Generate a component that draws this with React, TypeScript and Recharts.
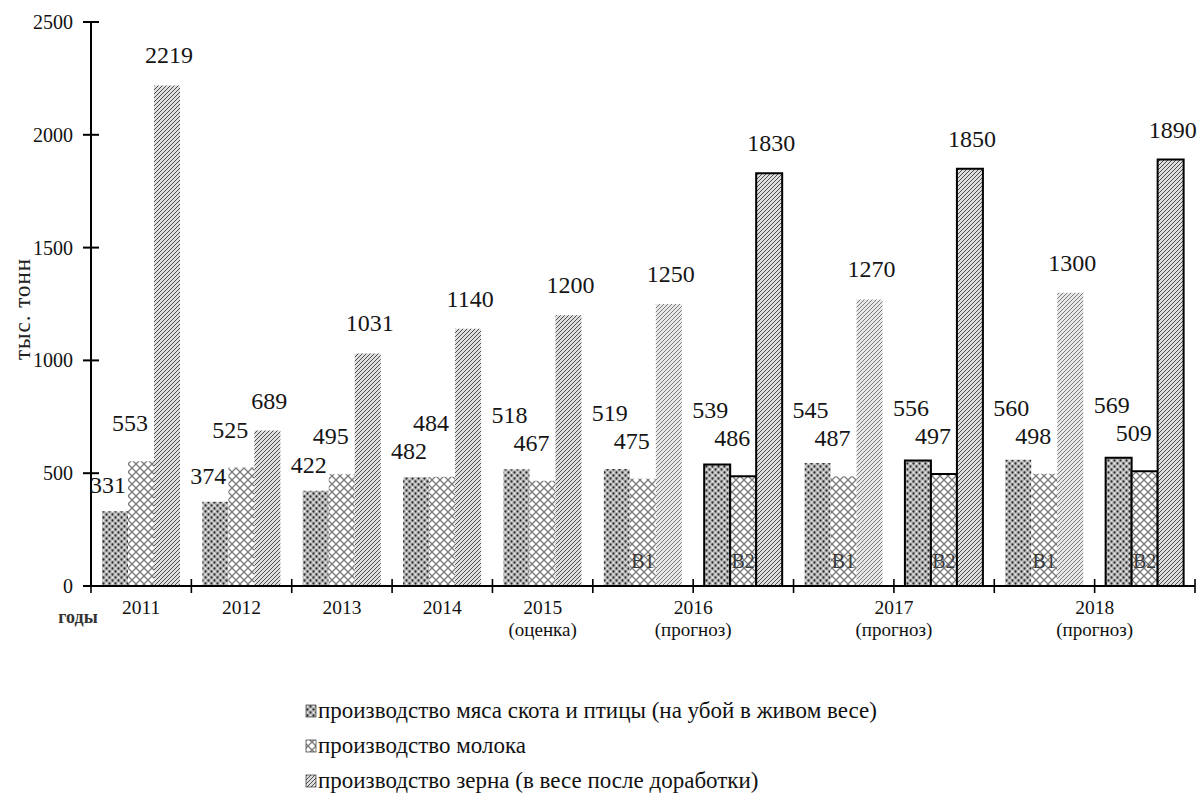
import React from 'react';
import { BarChart, Bar, XAxis, YAxis, Cell, LabelList, Legend, Label } from 'recharts';

const FONT = 'Liberation Serif, Times New Roman, serif';

// ---- data ----
const years = ['2011', '2012', '2013', '2014', '2015', '2016', '2016', '2017', '2017', '2018', '2018'];
const variants = ['', '', '', '', '', 'В1', 'В2', 'В1', 'В2', 'В1', 'В2'];
const notes = ['', '', '', '', '(оценка)', '(прогноз)', '(прогноз)', '(прогноз)', '(прогноз)', '(прогноз)', '(прогноз)'];
const meat = [331, 374, 422, 482, 518, 519, 539, 545, 556, 560, 569];
const milk = [553, 525, 495, 484, 467, 475, 486, 487, 497, 498, 509];
const grain = [2219, 689, 1031, 1140, 1200, 1250, 1830, 1270, 1850, 1300, 1890];
const yTicks = [0, 500, 1000, 1500, 2000, 2500];
const seriesNames = [
  'производство мяса скота и птицы (на убой в живом весе)',
  'производство молока',
  'производство зерна (в весе после доработки)',
];
const yLabel = 'тыс. тонн';
const xLabel = 'годы';

const data = years.map((y, i) => ({
  key: y + variants[i],
  year: y,
  variant: variants[i],
  note: notes[i],
  meat: meat[i],
  milk: milk[i],
  grain: grain[i],
}));

// ---- layout ----
const W = 1197;
const H = 793;
const Y_AXIS_W = 1;
const X_AXIS_H = 1;
const M = { top: 22, right: 2, left: 91 - Y_AXIS_W, bottom: 207 - X_AXIS_H };
const BAND = (W - 91 - M.right) / data.length;
const MEAT_GAP = 18;
const MILK_GAP = 30;
const GRAIN_GAP = 22;
const LABEL_H = 17;
const LIFT = 28;

const fontStyle = { fontFamily: FONT };

const Patterns = () => (
  <svg width={0} height={0} style={{ position: 'absolute' }}>
    <defs>
      <pattern id="pat-meat" patternUnits="userSpaceOnUse" width={6} height={6}>
        <rect width={6} height={6} fill="#bdbdbd" />
        <circle cx={1.5} cy={1.5} r={1.15} fill="#2e2e2e" />
        <circle cx={4.5} cy={4.5} r={1.15} fill="#2e2e2e" />
        <circle cx={4.5} cy={1.5} r={0.8} fill="#f6f6f6" />
        <circle cx={1.5} cy={4.5} r={0.7} fill="#ececec" />
      </pattern>
      <pattern id="pat-milk" patternUnits="userSpaceOnUse" width={8} height={8}>
        <rect width={8} height={8} fill="#ffffff" />
        <path d="M0,0 L8,8 M8,0 L0,8" stroke="#7a7a7a" strokeWidth={1.3} />
      </pattern>
      <pattern id="pat-grain" patternUnits="userSpaceOnUse" width={4} height={4}>
        <rect width={4} height={4} fill="#dedede" />
        <path d="M-1,1 l2,-2 M0,4 l4,-4 M3,5 l2,-2" stroke="#4e4e4e" strokeWidth={1} />
      </pattern>
      <pattern id="pat-grain-light" patternUnits="userSpaceOnUse" width={4} height={4}>
        <rect width={4} height={4} fill="#e8e8e8" />
        <path d="M-1,1 l2,-2 M0,4 l4,-4 M3,5 l2,-2" stroke="#7a7a7a" strokeWidth={1} />
      </pattern>
    </defs>
  </svg>
);

// compute meat / milk label baselines, lifting the taller bar's label on collision
const pairBaselines = (i: number, baseValue: number, baseTop: number, k: number) => {
  const top = (v: number) => baseTop - (v - baseValue) * k;
  let mB = top(meat[i]) - MEAT_GAP;
  let kB = top(milk[i]) - MILK_GAP;
  if (Math.abs(mB - kB) < LABEL_H) {
    if (meat[i] >= milk[i]) mB = kB - LIFT;
    else kB = mB - LIFT;
  }
  return { mB, kB };
};

const geom = (p: any) => {
  const vb = p.viewBox || {};
  const x = Number(p.x ?? vb.x);
  const y = Number(p.y ?? vb.y);
  const width = Number(p.width ?? vb.width);
  const height = Number(p.height ?? vb.height);
  return { x, y, width, height };
};

const textProps = { fontFamily: FONT, style: fontStyle, fontSize: 24, fill: '#151515', textAnchor: 'middle' as const };

const MeatLabel = (p: any) => {
  const { x, y, width, height } = geom(p);
  const i = p.index;
  const v = meat[i];
  const { mB } = pairBaselines(i, v, y, height / v);
  return (
    <text x={x + width / 2 - 7} y={mB} {...textProps}>
      {v}
    </text>
  );
};

const MilkLabel = (p: any) => {
  const { x, y, width, height } = geom(p);
  const i = p.index;
  const v = milk[i];
  const { kB } = pairBaselines(i, v, y, height / v);
  return (
    <text x={x + width / 2 - 11} y={kB} {...textProps}>
      {v}
    </text>
  );
};

const GrainLabel = (p: any) => {
  const { x, y, width } = geom(p);
  const v = grain[p.index];
  return (
    <text x={x + width / 2 + 2} y={y - GRAIN_GAP} {...textProps}>
      {v}
    </text>
  );
};

const VariantLabel = (p: any) => {
  const { x, y, width, height } = geom(p);
  const v = variants[p.index];
  if (!v) return null;
  return (
    <text x={x + width / 2} y={y + height - 18} textAnchor="middle" fontFamily={FONT} style={fontStyle} fontSize={20} fill="#3a3a3a">
      {v}
    </text>
  );
};

const XTick = (props: any) => {
  const { x, y, payload } = props;
  const i = data.findIndex((d) => d.key === payload.value);
  const d = data[i];
  const half = BAND / 2;
  let tx = x;
  let show = true;
  if (d.variant === 'В1') tx = x + half;
  else if (d.variant === 'В2') show = false;
  return (
    <g>
      <line x1={x - half} x2={x - half} y1={y - 7} y2={y + 7} stroke="#000" strokeWidth={1.6} />
      {i === data.length - 1 && (
        <line x1={x + half} x2={x + half} y1={y - 7} y2={y + 7} stroke="#000" strokeWidth={1.6} />
      )}
      {show && (
        <text x={tx} y={y + 28} textAnchor="middle" fontFamily={FONT} style={fontStyle} fontSize={19.5} fill="#111">
          {d.year}
        </text>
      )}
      {show && d.note && (
        <text x={tx} y={y + 50} textAnchor="middle" fontFamily={FONT} style={fontStyle} fontSize={19} fill="#111">
          {d.note}
        </text>
      )}
      {i === 0 && (
        <text x={x - half - 13} y={y + 37} textAnchor="middle" fontFamily={FONT} style={fontStyle} fontSize={18} fontWeight="bold" fill="#333">
          {xLabel}
        </text>
      )}
    </g>
  );
};

const YTick = (props: any) => {
  const { x, y, payload } = props;
  return (
    <g>
      <line x1={x - 8} x2={x + 8} y1={y} y2={y} stroke="#000" strokeWidth={2} />
      <text x={x - 18} y={y} dy="0.35em" textAnchor="end" fontFamily={FONT} style={fontStyle} fontSize={20} fill="#111">
        {payload.value}
      </text>
    </g>
  );
};

const legendFills = ['url(#pat-meat)', 'url(#pat-milk)', 'url(#pat-grain)'];

const LegendContent = () => (
  <svg width={640} height={110}>
    {seriesNames.map((name, i) => {
      const b = 28 + i * 35;
      return (
        <g key={name}>
          <rect x={6} y={b - 13} width={10} height={12} fill={legendFills[i]} stroke="#333" strokeWidth={0.7} />
          <text x={18} y={b} fontFamily={FONT} style={fontStyle} fontSize={23} fill="#111">
            {name}
          </text>
        </g>
      );
    })}
  </svg>
);

export default function App() {
  return (
    <div style={{ position: 'absolute', left: 0, top: 0, width: W, height: H, background: '#fff', fontFamily: FONT }}>
      <Patterns />
      <BarChart width={W} height={H} data={data} margin={M} barGap={0} barSize={26}>
        <Legend
          layout="horizontal"
          verticalAlign="middle"
          align="center"
          content={<LegendContent />}
          wrapperStyle={{ position: 'absolute', left: 300, top: 690, width: 640, height: 110 }}
        />
        <YAxis
          type="number"
          domain={[0, 2500]}
          ticks={yTicks}
          interval={0}
          width={Y_AXIS_W}
          tickSize={0}
          tickMargin={0}
          tickLine={false}
          tick={<YTick />}
          axisLine={{ stroke: '#000', strokeWidth: 2 }}
        >
          <Label
            content={(p: any) => {
              const vb = p.viewBox || { x: 0, y: 0, width: 0, height: 0 };
              const cx = vb.x + vb.width - 69;
              const cy = vb.y + vb.height / 2 + 5;
              return (
                <text
                  x={cx}
                  y={cy}
                  transform={`rotate(-90 ${cx} ${cy})`}
                  textAnchor="middle"
                  dy="0.35em"
                  fontFamily={FONT}
                  style={fontStyle}
                  fontSize={23}
                  letterSpacing={1}
                  fill="#222"
                >
                  {yLabel}
                </text>
              );
            }}
          />
        </YAxis>
        <Bar dataKey="meat" isAnimationActive={false} fill="url(#pat-meat)">
          {data.map((d) => (
            <Cell
              key={'m' + d.key}
              fill="url(#pat-meat)"
              stroke={d.variant === 'В2' ? '#000' : 'none'}
              strokeWidth={d.variant === 'В2' ? 2 : 0}
            />
          ))}
          <LabelList dataKey="meat" content={<MeatLabel />} />
        </Bar>
        <Bar dataKey="milk" isAnimationActive={false} fill="url(#pat-milk)">
          {data.map((d) => (
            <Cell
              key={'k' + d.key}
              fill="url(#pat-milk)"
              stroke={d.variant === 'В2' ? '#000' : 'none'}
              strokeWidth={d.variant === 'В2' ? 2 : 0}
            />
          ))}
          <LabelList dataKey="milk" content={<MilkLabel />} />
          <LabelList dataKey="variant" content={<VariantLabel />} />
        </Bar>
        <Bar dataKey="grain" isAnimationActive={false} fill="url(#pat-grain)">
          {data.map((d) => (
            <Cell
              key={'g' + d.key}
              fill={d.variant === 'В1' ? 'url(#pat-grain-light)' : 'url(#pat-grain)'}
              stroke={d.variant === 'В2' ? '#000' : 'none'}
              strokeWidth={d.variant === 'В2' ? 2 : 0}
            />
          ))}
          <LabelList dataKey="grain" content={<GrainLabel />} />
        </Bar>
        <XAxis
          dataKey="key"
          type="category"
          interval={0}
          height={X_AXIS_H}
          tickSize={0}
          tickMargin={0}
          tickLine={false}
          tick={<XTick />}
          axisLine={{ stroke: '#000', strokeWidth: 2 }}
        />
      </BarChart>
    </div>
  );
}
